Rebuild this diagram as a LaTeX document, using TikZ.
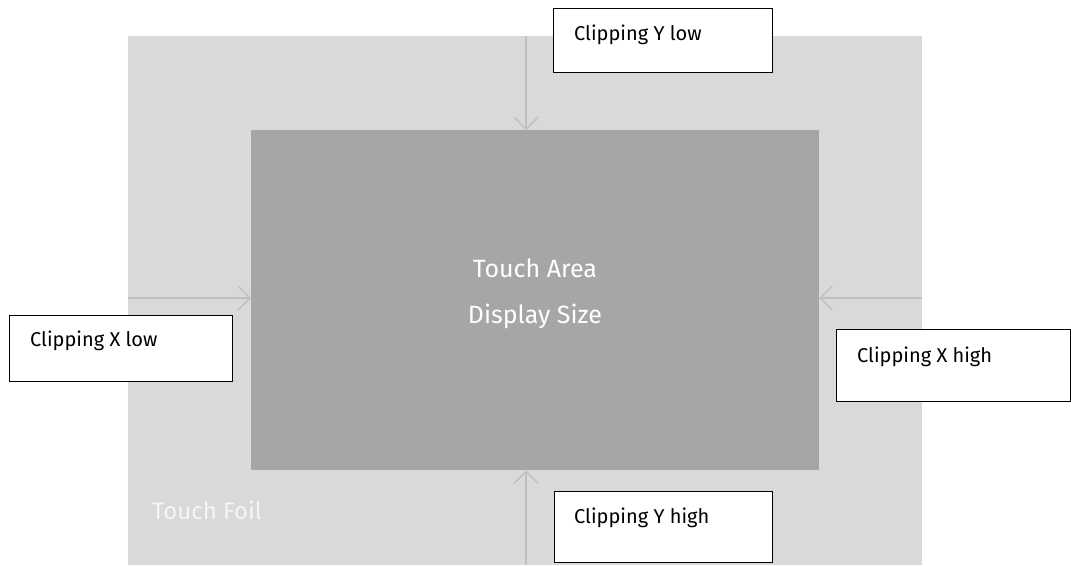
\documentclass[tikz,border=0pt]{standalone}
\usepackage{fontspec}
\setmainfont{Fira Sans}
\usetikzlibrary{arrows.meta}
\definecolor{foilgray}{HTML}{D9D9D9}
\definecolor{areagray}{HTML}{A6A6A6}
\definecolor{arrowgray}{HTML}{BFBFBF}
\tikzset{
  clipbox/.style={draw=black, line width=1.3pt, fill=white, anchor=north west, inner sep=0pt},
  cliptext/.style={anchor=base west, inner sep=0pt, font=\fontsize{20}{24}\selectfont},
  bigtext/.style={text=white, inner sep=0pt, font=\fontsize{25}{29}\selectfont},
  pusharrow/.style={draw=arrowgray, line width=1.3pt, -{Straight Barb[length=12pt, width=24pt, line width=1.3pt]}}
}
\begin{document}
\begin{tikzpicture}[x=1pt, y=-1pt]
      \useasboundingbox (0,0) rectangle (1071,565);
      % foil and display
      \fill[foilgray] (128,36) rectangle (922,565);
      \node[fill=areagray, inner sep=0pt, anchor=north west,
            minimum width=568pt, minimum height=340pt] (area) at (251,130) {};
      \node[bigtext, anchor=base] (areatxt) at (535,277) {Touch Area};
      \node[bigtext, anchor=base] (sizetxt) at (535,323) {Display Size};
      \node[bigtext, anchor=base west, text=white!96!black,
            font=\fontsize{24}{28}\selectfont] (foiltxt) at (152,519) {Touch Foil};
      % arrow ends
      \coordinate (ytop) at (526,36);
      \coordinate (ybot) at (526,565);
      \coordinate (xleft) at (128,298);
      \coordinate (xright) at (922,298);
      \begin{scope}[pusharrow]
        \draw (ytop) to (ytop |- area.north);
        \draw (ybot) to (ybot |- area.south);
        \draw (xleft) to (xleft -| area.west);
        \draw (xright) to (xright -| area.east);
      \end{scope}
      % clipping boxes
      \node[clipbox, minimum width=219pt, minimum height=64pt] (ylow) at (553,8) {};
      \node[clipbox, minimum width=223pt, minimum height=66pt] (xlow) at (9,315) {};
      \node[clipbox, minimum width=234pt, minimum height=72pt] (xhigh) at (836,329) {};
      \node[clipbox, minimum width=218pt, minimum height=71pt] (yhigh) at (554,491) {};
      \node[cliptext] (ylowtxt) at ([shift={(21,32)}]ylow.north west) {Clipping Y low};
      \node[cliptext] (xlowtxt) at ([shift={(21,31)}]xlow.north west) {Clipping X low};
      \node[cliptext] (xhightxt) at ([shift={(21,33)}]xhigh.north west) {Clipping X high};
      \node[cliptext] (yhightxt) at ([shift={(20,32)}]yhigh.north west) {Clipping Y high};
    \end{tikzpicture}
\end{document}
